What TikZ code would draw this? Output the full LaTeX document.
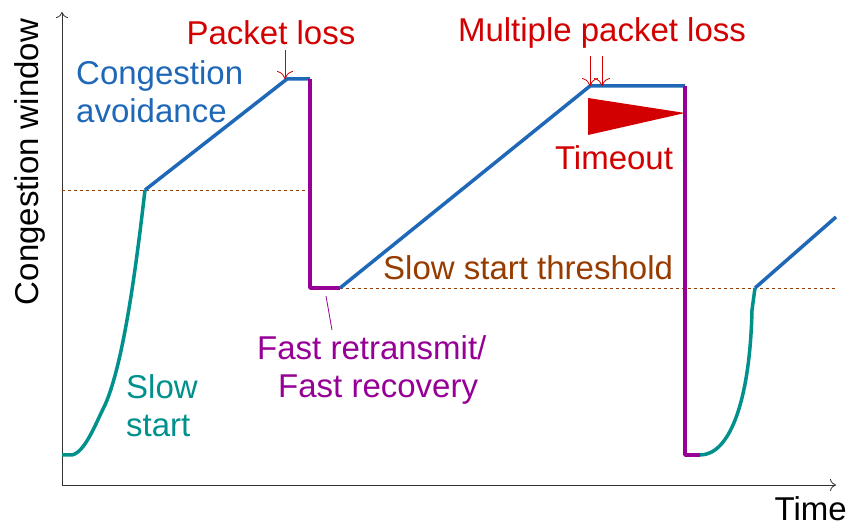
\documentclass[tikz,border=0pt]{standalone}
\usepackage{fontspec}
\setmainfont{Liberation Sans}
\usetikzlibrary{arrows.meta}

\definecolor{cablue}{RGB}{31,104,184}
\definecolor{ssteal}{RGB}{0,145,140}
\definecolor{frpurple}{RGB}{150,0,150}
\definecolor{lossred}{RGB}{210,0,0}
\definecolor{thbrown}{RGB}{150,60,0}

\begin{document}
\begin{tikzpicture}[x=1pt,y=-1pt,
                    lbl/.style={font=\fontsize{33}{38}\selectfont,inner sep=0pt},
                    axis line/.style={thick,black!80,-{To[length=6pt,width=12pt]}},
                    thresh/.style={thbrown,dashed,thin},
                    curve/.style={line width=3.5pt,line join=round}]
  \useasboundingbox (0,0) rectangle (849,526);

  % axes
  \coordinate (o) at (62,485);
  \coordinate (ytop) at (62,12);
  \coordinate (xend) at (836,485);
  \draw[axis line] (o) -- (ytop);
  \draw[axis line] (o) -- (xend);
  \node[lbl,anchor=base east] (time) at (847,520) {Time};
  \node[lbl,rotate=90] (cwnd) at (30,162) {Congestion window};

  % points of the window curve
  \coordinate (s0) at (62,455);
  \coordinate (s1) at (145,190);
  \coordinate (p1) at (287,79);
  \coordinate (p2) at (310,79);
  \coordinate (f1) at (310,288);
  \coordinate (f2) at (340,288);
  \coordinate (m1) at (590,86);
  \coordinate (m2) at (685,86);
  \coordinate (t1) at (685,455);
  \coordinate (t2) at (700,455);
  \coordinate (s2) at (755,288);
  \coordinate (e1) at (836,217);

  % thresholds
  \draw[thresh] (62,190) -- (p2 |- s1);
  \draw[thresh] (f2) -- (836,288);

  % window
  \draw[curve,ssteal] (s0) -- (72,455) .. controls (85,452) and (95,425) .. (105,405)
        .. controls (125,360) and (138,250) .. (s1);
  \draw[curve,cablue] (s1) -- (p1) -- (p2);
  \draw[curve,frpurple] (p2) -- (f1) -- (f2);
  \draw[curve,cablue] (f2) -- (m1) -- (m2);
  \draw[curve,frpurple] (m2) -- (t1) -- (t2);
  \draw[curve,ssteal] (t2) .. controls (730,455) and (750,400) .. (752,310) -- (s2);
  \draw[curve,cablue] (s2) -- (e1);

  % timeout
  \fill[lossred] (588,98) -- (588,135) -- (685,113) -- cycle;

  % labels
  \node[lbl,lossred] (pl) at (271,33) {Packet loss};
  \node[lbl,lossred] (mpl) at (602,33) {Multiple packet loss};
  \node[lbl,lossred] (to) at (614,158) {Timeout};
  \node[lbl,cablue,anchor=west,align=left] (ca) at (76,92) {Congestion\\avoidance};
  \node[lbl,thbrown,anchor=west] (sst) at (383,268) {Slow start threshold};
  \node[lbl,ssteal,anchor=west,align=left] (ss) at (126,406) {Slow\\start};
  \node[lbl,frpurple,anchor=west,align=left] (fr) at (257,370) {Fast retransmit/\\\hspace{21pt}Fast recovery};

  % loss markers
  \coordinate (a1) at (285,50);
  \coordinate (a2) at (590,56);
  \coordinate (a3) at (602,56);
  \draw[lossred,thick,-{To[length=8pt,width=16pt]}] (a1) -- (p1 -| a1);
  \draw[lossred,thick,-{To[length=8pt,width=16pt]}] (a2) -- (m1 -| a2);
  \draw[lossred,thick,-{To[length=8pt,width=16pt]}] (a3) -- (m1 -| a3);
  \coordinate (fr1) at (326,296);
  \coordinate (fr2) at (332,330);
  \draw[frpurple,thick] (fr1) -- (fr2);
\end{tikzpicture}
\end{document}
